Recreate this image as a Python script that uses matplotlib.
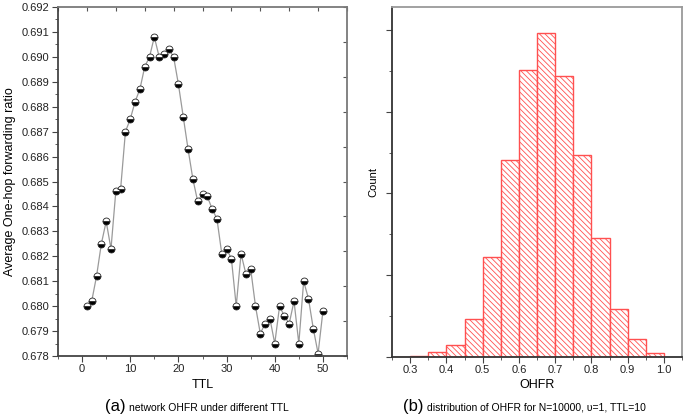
import numpy as np
import matplotlib
matplotlib.use('Agg')
import matplotlib.pyplot as plt
from matplotlib.ticker import MultipleLocator, FixedLocator, NullFormatter

plt.rcParams['font.family'] = ['Liberation Sans', 'DejaVu Sans']
plt.rcParams['hatch.linewidth'] = 0.6

# (a) average one-hop forwarding ratio vs TTL
ttl = list(range(1, 51))
ohfr = [0.6800, 0.6802, 0.6812, 0.6825, 0.6834, 0.6823, 0.6846, 0.6847, 0.6870, 0.6875,
        0.6882, 0.6887, 0.6896, 0.6900, 0.6908, 0.6900, 0.6901, 0.6903, 0.6900, 0.6889,
        0.6876, 0.6863, 0.6851, 0.6842, 0.6845, 0.6844, 0.6839, 0.6835, 0.6821, 0.6823,
        0.6819, 0.6800, 0.6821, 0.6813, 0.6815, 0.6800, 0.6789, 0.6793, 0.6795, 0.6785,
        0.6800, 0.6796, 0.6793, 0.6802, 0.6785, 0.6810, 0.6803, 0.6791, 0.6781, 0.6798]

# (b) distribution of OHFR, bins of 0.05
bin_left = [0.25, 0.30, 0.35, 0.40, 0.45, 0.50, 0.55, 0.60, 0.65, 0.70, 0.75, 0.80, 0.85, 0.90, 0.95]
counts = [0, 8, 32, 73, 230, 612, 1207, 1752, 1980, 1716, 1233, 728, 291, 108, 26]

W, H = 685, 418
fig = plt.figure(figsize=(W / 100, H / 100), dpi=100)
ax1 = fig.add_axes([58 / W, 1 - 356 / H, 289 / W, 349 / H])
ax2 = fig.add_axes([392 / W, 1 - 357 / H, 290 / W, 350 / H])

# ---- left panel
ax1.plot(ttl, ohfr, color='#9a9a9a', lw=0.9, marker='o', ms=5,
         fillstyle='bottom', markerfacecolor='black', markerfacecoloralt='white',
         markeredgecolor='#222222', markeredgewidth=0.6)
ax1.set_xlim(-5, 55)
ax1.set_ylim(0.678, 0.692)
ax1.xaxis.set_major_locator(MultipleLocator(10))
ax1.xaxis.set_minor_locator(MultipleLocator(5))
ax1.yaxis.set_major_locator(MultipleLocator(0.001))
ax1.yaxis.set_minor_locator(MultipleLocator(0.0005))
ax1.yaxis.set_major_formatter(plt.FormatStrFormatter('%.3f'))
ax1.tick_params(axis='both', which='major', direction='out', length=4, width=0.8,
                labelsize=8, color='#444444', labelcolor='#222222', pad=2)
ax1.tick_params(axis='both', which='minor', direction='out', length=2, width=0.6, color='#444444')
for s in ax1.spines.values():
    s.set_color('#7a7a7a')
    s.set_linewidth(1.3)
ax1.spines['left'].set_color('#444444')
ax1.spines['bottom'].set_color('#444444')

# top / right ticks: ten equal divisions, pointing inward
top = ax1.secondary_xaxis('top')
top.xaxis.set_major_locator(FixedLocator(np.linspace(-5, 55, 11)))
top.xaxis.set_major_formatter(NullFormatter())
top.tick_params(direction='in', length=3, width=0.8, color='#555555')
top.spines['top'].set_visible(False)
right = ax1.secondary_yaxis('right')
right.yaxis.set_major_locator(FixedLocator(np.linspace(0.678, 0.692, 11)))
right.yaxis.set_major_formatter(NullFormatter())
right.tick_params(direction='in', length=3, width=0.8, color='#555555')
right.spines['right'].set_visible(False)

ax1.set_xlabel('TTL', fontsize=9, labelpad=3)
ax1.set_ylabel('Average One-hop forwarding ratio', fontsize=9, labelpad=4)

# ---- right panel
ax2.bar(bin_left, counts, width=0.05, align='edge', facecolor='white',
        edgecolor='#ff5050', linewidth=1.0, hatch='\\\\\\\\\\\\')
ax2.set_xlim(0.25, 1.05)
ax2.set_ylim(0, 2140)
ax2.xaxis.set_major_locator(FixedLocator([0.3, 0.4, 0.5, 0.6, 0.7, 0.8, 0.9, 1.0]))
ax2.xaxis.set_major_formatter(plt.FormatStrFormatter('%.1f'))
ax2.xaxis.set_minor_locator(MultipleLocator(0.05))
ax2.yaxis.set_major_locator(MultipleLocator(500))
ax2.yaxis.set_minor_locator(MultipleLocator(250))
ax2.yaxis.set_major_formatter(NullFormatter())
ax2.tick_params(axis='both', which='major', direction='out', length=4, width=0.8,
                labelsize=8, color='#444444', labelcolor='#222222', pad=2)
ax2.tick_params(axis='both', which='minor', direction='out', length=2, width=0.6, color='#444444')
for s in ax2.spines.values():
    s.set_color('#9a9a9a')
    s.set_linewidth(1.3)
ax2.spines['left'].set_color('#333333')
ax2.spines['bottom'].set_color('#333333')
ax2.set_xlabel('OHFR', fontsize=9, labelpad=3)
ax2.set_ylabel('Count', fontsize=8, labelpad=4)

# captions
fig.text(105 / W, 1 - 407 / H, '(a)', fontsize=12, va='center', ha='left')
fig.text(129 / W, 1 - 408 / H, 'network OHFR under different TTL', fontsize=7.5, va='center', ha='left')
fig.text(403 / W, 1 - 407 / H, '(b)', fontsize=12, va='center', ha='left')
fig.text(427 / W, 1 - 408 / H, 'distribution of OHFR for N=10000, \u03c5=1, TTL=10',
         fontsize=7.5, va='center', ha='left')

fig.savefig('out.png', dpi=100)
